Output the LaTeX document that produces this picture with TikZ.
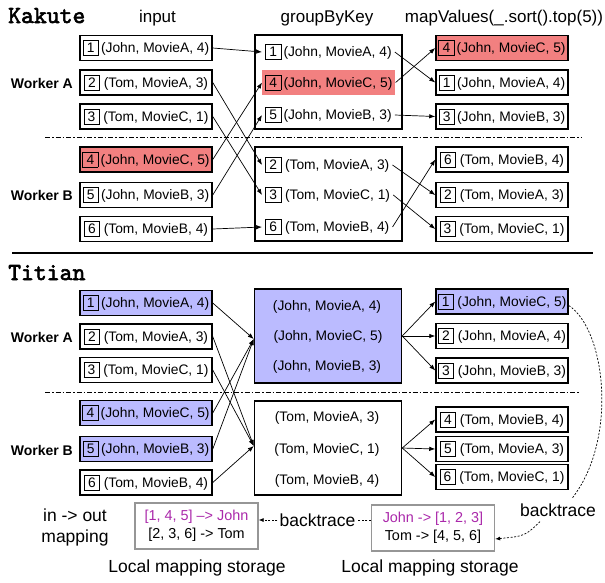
\documentclass[tikz,border=0pt]{standalone}
\usepackage{fontspec}
\setmainfont{Liberation Sans}
\newfontfamily\courb[FakeBold=2.5]{lmmono10-regular.otf}
\usetikzlibrary{arrows.meta}
\definecolor{kred}{RGB}{242,128,128}
\definecolor{tblue}{RGB}{187,187,255}
\definecolor{mag}{RGB}{170,40,170}
\definecolor{sgray}{RGB}{150,150,150}
\newcommand\nb[1]{{\setlength\fboxsep{0pt}\setlength\fboxrule{0.6pt}\fbox{\makebox[14.8pt]{\rule[-2.5pt]{0pt}{14.5pt}#1}}}}
\newcommand\rowfont{\fontsize{13.8}{16}\selectfont}
\newcommand\bigfont{\fontsize{17.5}{21}\selectfont}
\newcommand\ttlfont{\fontsize{17}{20}\selectfont}
\newcommand\stfont{\fontsize{14.4}{18}\selectfont}
\begin{document}
\begin{tikzpicture}[x=1pt,y=-1pt,
  rec/.style={draw,line width=1.5pt,minimum width=132pt,minimum height=25pt,inner sep=0pt,font=\rowfont},
  grw/.style={anchor=west,inner xsep=3pt,inner ysep=0pt,minimum height=25pt,font=\rowfont},
  gbox/.style={draw,line width=1.5pt,minimum width=147pt,minimum height=94pt,inner sep=0pt},
  gtxt/.style={font=\rowfont,inner sep=1pt},
  arr/.style={-{Latex[length=6pt,width=4.5pt]},line width=0.7pt},
  darr/.style={-{Latex[length=5pt,width=4pt]},line width=0.7pt,dash pattern=on 2pt off 1.6pt},
  dline/.style={line width=0.7pt,dash pattern=on 2pt off 1.6pt},
  sepline/.style={line width=0.8pt,dash pattern=on 5pt off 2pt on 1.5pt off 2pt},
  wlab/.style={anchor=east,font=\bfseries\fontsize{14}{16}\selectfont,inner sep=0pt},
  ttl/.style={anchor=base,font=\ttlfont,inner sep=0pt},
  sys/.style={anchor=base west,font=\courb\fontsize{24.5}{27}\selectfont,inner sep=0pt},
  store/.style={draw=sgray,line width=1.3pt,minimum width=123pt,minimum height=46pt,align=center,font=\stfont,inner sep=0pt},
  lab/.style={font=\bigfont,inner sep=2pt,align=center}
]
\useasboundingbox (0,0) rectangle (605,582);

% ---------------- Kakute ----------------
\node[sys] (tk) at (8,23) {Kakute};
\node[ttl] (tin) at (157.5,22) {input};
\node[ttl] (tgb) at (327,22) {groupByKey};
\node[ttl] (tmv) at (504,22) {mapValues(\_.sort().top(5))};

\node[wlab] (wka) at (73,83) {Worker A};
\node[wlab] (wkb) at (73,195) {Worker B};

\node[rec] (ik1) at (146,48) {\nb{1}\,(John, MovieA, 4)};
\node[rec] (ik2) at (146,82.5) {\nb{2} (Tom, MovieA, 3)};
\node[rec] (ik3) at (146,116.5) {\nb{3} (Tom, MovieC, 1)};
\node[rec,fill=kred] (ik4) at (146,159.5) {\nb{4}\,(John, MovieC, 5)};
\node[rec] (ik5) at (146,195) {\nb{5}\,(John, MovieB, 3)};
\node[rec] (ik6) at (146,229) {\nb{6} (Tom, MovieB, 4)};

\node[gbox] (gkA) at (328.5,82) {};
\node[gbox] (gkB) at (328.5,194) {};
\node[grw] (gk1) at (262,52) {\nb{1}\,(John, MovieA, 4)};
\node[grw,fill=kred] (gk4) at (262,82.5) {\nb{4}\,(John, MovieC, 5)};
\node[grw] (gk5) at (262,115) {\nb{5}\,(John, MovieB, 3)};
\node[grw] (gk2) at (262,165) {\nb{2} (Tom, MovieA, 3)};
\node[grw] (gk3) at (262,195) {\nb{3} (Tom, MovieC, 1)};
\node[grw] (gk6) at (262,227) {\nb{6} (Tom, MovieB, 4)};

\node[rec,fill=kred] (mk1) at (502,48) {\nb{4}\,(John, MovieC, 5)};
\node[rec] (mk2) at (502,82.5) {\nb{1}\,(John, MovieA, 4)};
\node[rec] (mk3) at (502,116.5) {\nb{3}\,(John, MovieB, 3)};
\node[rec] (mk4) at (502,159.5) {\nb{6} (Tom, MovieB, 4)};
\node[rec] (mk5) at (502,195) {\nb{2} (Tom, MovieA, 3)};
\node[rec] (mk6) at (502,229) {\nb{3} (Tom, MovieC, 1)};

\coordinate (sk1) at (45,137.5);
\coordinate (sk2) at (582,137.5);
\draw[sepline] (sk1) -- (sk2);

\draw[arr] (ik1.east) -- (gk1.west);
\draw[arr] (ik2.east) -- (gk2.west);
\draw[arr] (ik3.east) -- (gk3.west);
\draw[arr] (ik4.east) -- (gk4.west);
\draw[arr] (ik5.east) -- (gk5.west);
\draw[arr] (ik6.east) -- (gk6.west);
\draw[arr] (gk1.east) -- (mk2.west);
\draw[arr] (gk4.east) -- (mk1.west);
\draw[arr] (gk5.east) -- (mk3.west);
\draw[arr] (gk2.east) -- (mk5.west);
\draw[arr] (gk3.east) -- (mk6.west);
\draw[arr] (gk6.east) -- (mk4.west);

% separator
\coordinate (hl1) at (12,253);
\coordinate (hl2) at (593,253);
\draw[line width=1.2pt] (hl1) -- (hl2);

% ---------------- Titian ----------------
\node[sys] (tt) at (8,280) {Titian};
\node[wlab] (wta) at (73,337) {Worker A};
\node[wlab] (wtb) at (73,450) {Worker B};

\node[rec,fill=tblue] (it1) at (146,303) {\nb{1}\,(John, MovieA, 4)};
\node[rec] (it2) at (146,336.5) {\nb{2} (Tom, MovieA, 3)};
\node[rec] (it3) at (146,370) {\nb{3} (Tom, MovieC, 1)};
\node[rec,fill=tblue] (it4) at (146,413) {\nb{4}\,(John, MovieC, 5)};
\node[rec,fill=tblue] (it5) at (146,449) {\nb{5}\,(John, MovieB, 3)};
\node[rec] (it6) at (146,482.5) {\nb{6} (Tom, MovieB, 4)};

\node[gbox,fill=tblue] (gtA) at (328,336) {};
\node[gbox] (gtB) at (328,448) {};
\node[gtxt] (gj1) at (327,307) {(John, MovieA, 4)};
\node[gtxt] (gj2) at (328,337) {(John, MovieC, 5)};
\node[gtxt] (gj3) at (327,367) {(John, MovieB, 3)};
\node[gtxt] (gt1) at (327,418) {(Tom, MovieA, 3)};
\node[gtxt] (gt2) at (327,450) {(Tom, MovieC, 1)};
\node[gtxt] (gt3) at (327,481) {(Tom, MovieB, 4)};

\node[rec,fill=tblue] (mt1) at (502,301.5) {\nb{1} (John, MovieC, 5)};
\node[rec] (mt2) at (502,336) {\nb{2} (John, MovieA, 4)};
\node[rec] (mt3) at (502,370.5) {\nb{3} (John, MovieB, 3)};
\node[rec] (mt4) at (502,419.5) {\nb{4} (Tom, MovieB, 4)};
\node[rec] (mt5) at (502,449) {\nb{5} (Tom, MovieA, 3)};
\node[rec] (mt6) at (502,477) {\nb{6} (Tom, MovieC, 1)};

\coordinate (st1) at (45,392);
\coordinate (st2) at (580,392);
\draw[sepline] (st1) -- (st2);

\draw[arr] (it1.east) -- ([yshift=-3pt]gtA.west);
\draw[arr] (it4.east) -- ([yshift=-3pt]gtA.west);
\draw[arr] (it5.east) -- ([yshift=-3pt]gtA.west);
\draw[arr] (it2.east) -- ([yshift=2pt]gtB.west);
\draw[arr] (it3.east) -- ([yshift=2pt]gtB.west);
\draw[arr] (it6.east) -- ([yshift=2pt]gtB.west);
\draw[arr] (gtA.east) -- (mt1.west);
\draw[arr] (gtA.east) -- (mt2.west);
\draw[arr] (gtA.east) -- (mt3.west);
\draw[arr] (gtB.east) -- (mt4.west);
\draw[arr] (gtB.east) -- (mt5.west);
\draw[arr] (gtB.east) -- (mt6.west);

% ---------------- storage ----------------
\node[lab] (iom) at (75,527.5) {in -> out\\mapping};
\node[store] (ls) at (196.5,526) {\textcolor{mag}{[1, 4, 5] –> John}\\{}[2, 3, 6] -> Tom};
\node[store] (rs) at (433,528) {\textcolor{mag}{John -> [1, 2, 3]}\\Tom -> [4, 5, 6]};
\node[lab] (lms1) at (197,568) {Local mapping storage};
\node[lab] (lms2) at (430,568) {Local mapping storage};
\node[lab] (bt1) at (317.5,520) {backtrace};
\node[lab] (bt2) at (558,510) {backtrace};

\draw[dline] (rs.west |- bt1.east) -- (bt1.east);
\draw[darr] (bt1.west) -- (ls.east |- bt1.west);
\draw[dline] ([yshift=-4pt]mt1.east) .. controls (606,330) and (618,440) .. ([xshift=14pt,yshift=3pt]bt2.north);
\draw[darr] ([xshift=-18pt,yshift=-3pt]bt2.south) .. controls (525,536) .. ([yshift=-11pt]rs.east);
\end{tikzpicture}
\end{document}
